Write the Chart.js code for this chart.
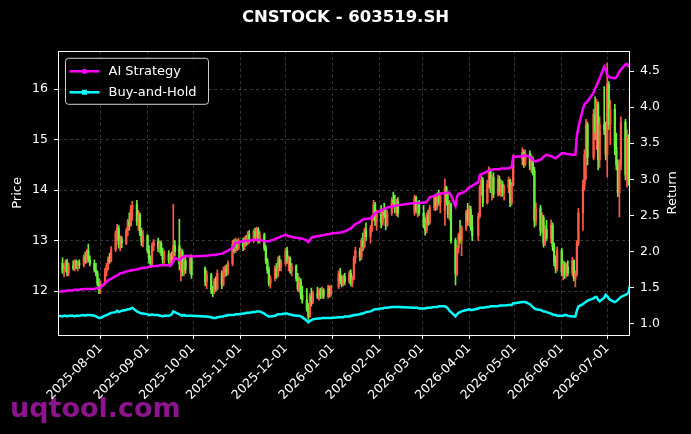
<!DOCTYPE html>
<html><head><meta charset="utf-8">
<script src="https://cdn.jsdelivr.net/npm/chart.js@4.4.1/dist/chart.umd.min.js"></script>
<style>html,body{margin:0;padding:0;background:#000;}canvas{display:block;}</style>
</head><body>
<canvas id="c" width="691" height="434"></canvas>
<script>
const dates = [
"2025-07-04","2025-07-07","2025-07-08","2025-07-09","2025-07-10","2025-07-11","2025-07-14","2025-07-15","2025-07-16","2025-07-17","2025-07-18","2025-07-21","2025-07-22","2025-07-23","2025-07-24","2025-07-25","2025-07-28","2025-07-29","2025-07-30","2025-07-31",
"2025-08-01","2025-08-04","2025-08-05","2025-08-06","2025-08-07","2025-08-08","2025-08-11","2025-08-12","2025-08-13","2025-08-14","2025-08-15","2025-08-18","2025-08-19","2025-08-20","2025-08-21","2025-08-22","2025-08-25","2025-08-26","2025-08-27","2025-08-28","2025-08-29",
"2025-09-01","2025-09-02","2025-09-03","2025-09-04","2025-09-05","2025-09-08","2025-09-09","2025-09-10","2025-09-11","2025-09-12","2025-09-15","2025-09-16","2025-09-17","2025-09-18","2025-09-19","2025-09-22","2025-09-23","2025-09-24","2025-09-25","2025-09-26","2025-09-29","2025-09-30",
"2025-10-09","2025-10-10","2025-10-13","2025-10-14","2025-10-15","2025-10-16","2025-10-17","2025-10-20","2025-10-21","2025-10-22","2025-10-23","2025-10-24","2025-10-27","2025-10-28","2025-10-29","2025-10-30","2025-10-31",
"2025-11-03","2025-11-04","2025-11-05","2025-11-06","2025-11-07","2025-11-10","2025-11-11","2025-11-12","2025-11-13","2025-11-14","2025-11-17","2025-11-18","2025-11-19","2025-11-20","2025-11-21","2025-11-24","2025-11-25","2025-11-26","2025-11-27","2025-11-28",
"2025-12-01","2025-12-02","2025-12-03","2025-12-04","2025-12-05","2025-12-08","2025-12-09","2025-12-10","2025-12-11","2025-12-12","2025-12-15","2025-12-16","2025-12-17","2025-12-18","2025-12-19","2025-12-22","2025-12-23","2025-12-24","2025-12-25","2025-12-26","2025-12-29","2025-12-30","2025-12-31",
"2026-01-05","2026-01-06","2026-01-07","2026-01-08","2026-01-09","2026-01-12","2026-01-13","2026-01-14","2026-01-15","2026-01-16","2026-01-19","2026-01-20","2026-01-21","2026-01-22","2026-01-23","2026-01-26","2026-01-27","2026-01-28","2026-01-29","2026-01-30",
"2026-02-02","2026-02-03","2026-02-04","2026-02-05","2026-02-06","2026-02-09","2026-02-10","2026-02-11","2026-02-12","2026-02-13","2026-02-24","2026-02-25","2026-02-26","2026-02-27",
"2026-03-02","2026-03-03","2026-03-04","2026-03-05","2026-03-06","2026-03-09","2026-03-10","2026-03-11","2026-03-12","2026-03-13","2026-03-16","2026-03-17","2026-03-18","2026-03-19","2026-03-20","2026-03-23","2026-03-24","2026-03-25","2026-03-26","2026-03-27","2026-03-30","2026-03-31",
"2026-04-01","2026-04-02","2026-04-03","2026-04-07","2026-04-08","2026-04-09","2026-04-10","2026-04-13","2026-04-14","2026-04-15","2026-04-16","2026-04-17","2026-04-20","2026-04-21","2026-04-22","2026-04-23","2026-04-24","2026-04-27","2026-04-28","2026-04-29","2026-04-30",
"2026-05-06","2026-05-07","2026-05-08","2026-05-11","2026-05-12","2026-05-13","2026-05-14","2026-05-15","2026-05-18","2026-05-19","2026-05-20","2026-05-21","2026-05-22","2026-05-25","2026-05-26","2026-05-27","2026-05-28","2026-05-29",
"2026-06-01","2026-06-02","2026-06-03","2026-06-04","2026-06-05","2026-06-08","2026-06-09","2026-06-10","2026-06-11","2026-06-12","2026-06-15","2026-06-16","2026-06-17","2026-06-18","2026-06-22","2026-06-23","2026-06-24","2026-06-25","2026-06-26","2026-06-29","2026-06-30",
"2026-07-01","2026-07-02","2026-07-03","2026-07-06","2026-07-07","2026-07-08","2026-07-09","2026-07-10","2026-07-13","2026-07-14","2026-07-15","2026-07-16"
];
const openP = [
12.50,12.55,12.40,12.45,12.58,12.36,12.50,12.46,12.58,12.48,12.55,12.52,12.68,12.60,12.80,12.62,12.55,12.42,12.35,12.15,
12.05,12.15,12.40,12.50,12.62,12.60,12.82,13.15,13.25,12.92,13.02,12.95,13.20,13.38,13.30,13.62,13.72,13.38,13.50,13.15,12.98,
13.10,12.80,12.62,12.55,12.90,12.98,12.85,12.95,12.75,12.62,12.72,12.60,12.70,12.62,12.90,12.90,12.55,12.78,12.38,12.60,12.42,12.65,
12.45,12.18,12.32,12.02,11.98,12.20,12.05,12.35,12.12,12.40,12.45,12.36,12.55,12.92,12.80,12.98,12.85,
13.00,12.88,13.02,12.95,13.12,13.00,13.18,13.08,13.22,13.02,13.12,12.85,12.60,12.42,12.15,12.25,12.45,12.30,12.62,12.48,
12.55,12.80,12.60,12.65,12.40,12.50,12.25,12.05,12.20,11.92,11.82,11.65,11.50,11.90,11.78,11.95,11.90,12.00,11.92,12.02,11.90,12.05,11.95,
12.08,12.35,12.20,12.12,12.28,12.18,12.35,12.15,12.25,12.65,12.80,12.68,13.00,12.88,13.20,13.08,13.25,13.45,13.72,13.38,
13.52,13.35,13.55,13.50,13.30,13.55,13.80,13.75,13.62,13.78,13.55,13.85,13.60,13.72,
13.55,13.30,13.20,13.50,13.35,13.65,13.85,13.68,13.90,13.75,13.60,14.05,13.78,13.52,13.72,13.00,12.35,12.85,13.10,13.00,13.25,13.55,
13.40,13.62,13.28,13.10,13.48,14.05,14.20,13.75,14.12,14.40,14.02,14.25,13.92,14.22,13.98,14.12,13.95,14.05,14.20,13.75,14.10,
14.62,14.75,14.52,14.72,14.48,14.62,14.38,13.40,13.65,13.20,13.45,12.95,13.22,13.05,13.30,12.88,12.58,12.45,
12.80,12.38,12.52,12.32,12.48,12.36,12.60,12.25,12.35,12.95,13.55,14.10,14.70,15.30,14.65,15.50,15.15,15.70,14.60,15.30,15.20,
14.70,16.10,15.30,15.60,14.85,14.50,13.95,14.50,15.35,14.30,15.05,14.20
];
const highP = [
12.62,12.66,12.52,12.62,12.63,12.55,12.60,12.62,12.62,12.60,12.62,12.72,12.78,12.82,12.93,12.70,12.62,12.55,12.40,12.25,
12.20,12.45,12.55,12.68,12.75,12.88,13.20,13.32,13.30,13.10,13.08,13.25,13.42,13.55,13.70,13.78,13.80,13.60,13.55,13.25,13.20,
13.12,12.90,12.70,12.95,13.02,13.05,13.00,12.98,12.85,12.80,12.80,12.75,12.78,13.72,13.00,13.42,12.85,12.82,12.68,12.70,12.72,12.72,
12.48,12.40,12.35,12.10,12.25,12.28,12.42,12.40,12.48,12.50,12.52,12.60,13.00,13.02,13.05,13.02,13.05,
13.05,13.08,13.10,13.18,13.20,13.22,13.25,13.27,13.26,13.18,13.15,12.90,12.65,12.48,12.30,12.50,12.55,12.68,12.70,12.62,
12.85,12.87,12.70,12.68,12.55,12.52,12.35,12.28,12.25,12.10,12.05,11.75,11.95,12.06,12.00,12.08,12.05,12.06,12.08,12.05,12.12,12.10,12.12,
12.40,12.45,12.30,12.32,12.35,12.40,12.42,12.30,12.70,12.87,12.85,13.05,13.15,13.25,13.35,13.30,13.50,13.80,13.76,13.60,
13.70,13.62,13.74,13.65,13.60,13.85,13.96,13.90,13.82,13.85,13.90,13.88,13.78,13.80,
13.70,13.45,13.55,13.60,13.70,13.90,13.92,13.95,14.00,13.95,14.22,14.08,13.95,13.80,13.75,13.05,12.90,13.15,13.40,13.30,13.60,13.74,
13.70,13.68,13.50,13.55,14.10,14.30,14.25,14.20,14.46,14.42,14.30,14.35,14.30,14.28,14.20,14.18,14.10,14.26,14.22,14.15,14.70,
14.84,14.80,14.80,14.78,14.70,14.66,14.45,13.75,13.70,13.55,13.50,13.30,13.40,13.41,13.35,12.95,12.70,12.87,
12.85,12.60,12.58,12.55,12.60,12.67,12.62,12.40,13.00,13.64,14.20,14.80,15.40,15.35,15.60,15.85,15.80,15.75,15.45,16.05,15.35,
16.52,16.15,15.78,15.70,15.13,14.60,14.60,15.45,15.40,15.20,15.10,16.10
];
const lowP = [
12.42,12.35,12.28,12.38,12.30,12.30,12.42,12.40,12.44,12.40,12.45,12.48,12.55,12.56,12.58,12.50,12.38,12.30,12.10,11.95,
11.95,12.12,12.30,12.42,12.55,12.58,12.78,13.00,12.85,12.80,12.86,12.92,13.10,13.20,13.28,13.40,13.30,13.20,13.10,12.90,12.88,
12.75,12.55,12.48,12.52,12.80,12.78,12.75,12.70,12.55,12.55,12.55,12.48,12.55,12.58,12.70,12.42,12.20,12.30,12.30,12.35,12.35,12.25,
12.10,12.05,11.95,11.89,11.95,12.00,12.02,12.05,12.10,12.28,12.30,12.32,12.50,12.75,12.76,12.80,12.82,
12.80,12.82,12.90,12.92,12.95,12.96,13.02,13.05,12.95,12.95,12.80,12.55,12.35,12.10,12.06,12.20,12.25,12.28,12.40,12.40,
12.50,12.55,12.40,12.35,12.30,12.20,12.00,11.98,11.85,11.76,11.60,11.44,11.48,11.70,11.75,11.85,11.82,11.85,11.86,11.85,11.86,11.88,11.90,
12.05,12.15,12.08,12.10,12.12,12.15,12.10,12.08,12.22,12.55,12.60,12.62,12.80,12.85,13.00,12.95,13.18,13.40,13.30,13.20,
13.25,13.30,13.45,13.21,13.28,13.50,13.68,13.55,13.50,13.47,13.50,13.55,13.47,13.50,
13.25,13.11,13.15,13.30,13.32,13.60,13.60,13.62,13.70,13.55,13.30,13.70,13.45,13.41,12.95,12.12,12.30,12.75,12.95,12.70,13.20,13.30,
13.30,13.20,13.00,13.00,13.45,13.90,13.67,13.72,14.05,13.95,13.80,13.85,13.88,13.90,13.87,13.88,13.80,13.95,13.67,13.70,14.08,
14.50,14.45,14.48,14.40,14.34,14.30,13.27,13.30,13.10,13.15,12.87,12.90,13.00,12.95,12.80,12.50,12.36,12.40,
12.30,12.22,12.25,12.28,12.30,12.30,12.20,12.08,12.30,12.90,13.20,14.00,14.20,14.50,14.60,15.00,14.80,14.40,14.45,15.10,14.60,
14.26,15.20,14.90,14.70,14.40,13.87,13.47,14.40,14.20,14.06,14.10,14.10
];
const closeP = [
12.55,12.40,12.45,12.58,12.36,12.50,12.46,12.58,12.48,12.55,12.52,12.68,12.60,12.78,12.62,12.55,12.42,12.35,12.15,12.02,
12.15,12.40,12.50,12.62,12.60,12.82,13.15,13.25,12.92,13.02,12.95,13.20,13.38,13.30,13.62,13.70,13.38,13.50,13.15,12.98,13.10,
12.80,12.62,12.55,12.90,12.98,12.85,12.95,12.75,12.62,12.72,12.60,12.70,12.62,12.90,12.78,12.55,12.78,12.38,12.60,12.42,12.65,12.32,
12.18,12.32,12.02,11.98,12.20,12.05,12.35,12.12,12.40,12.45,12.36,12.55,12.92,12.80,12.98,12.85,13.00,
12.88,13.02,12.95,13.12,13.00,13.18,13.08,13.22,13.02,13.12,12.85,12.60,12.42,12.15,12.25,12.45,12.30,12.62,12.48,12.55,
12.80,12.60,12.65,12.40,12.50,12.25,12.05,12.20,11.92,11.82,11.65,11.50,11.90,11.78,11.95,11.90,12.00,11.92,12.02,11.90,12.05,11.95,12.08,
12.35,12.20,12.12,12.28,12.18,12.35,12.15,12.25,12.65,12.80,12.68,13.00,12.88,13.20,13.08,13.25,13.45,13.72,13.38,13.52,
13.35,13.55,13.50,13.30,13.55,13.80,13.75,13.62,13.78,13.55,13.85,13.60,13.72,13.55,
13.30,13.20,13.50,13.35,13.65,13.85,13.68,13.90,13.75,13.88,14.05,13.78,13.52,13.72,13.00,12.35,12.85,13.10,13.00,13.25,13.55,13.40,
13.62,13.28,13.10,13.48,14.05,14.20,13.75,14.12,14.40,14.02,14.25,13.92,14.22,13.98,14.12,13.95,14.05,14.20,13.75,14.10,14.62,
14.75,14.52,14.72,14.48,14.62,14.38,13.40,13.65,13.20,13.45,12.95,13.22,13.05,13.30,12.88,12.58,12.45,12.80,
12.38,12.52,12.32,12.48,12.36,12.60,12.25,12.35,12.95,13.55,14.10,14.70,15.30,14.65,15.50,15.15,15.70,14.60,15.30,15.20,14.70,
16.10,15.30,15.60,14.85,14.50,13.95,14.50,15.35,14.30,15.05,14.20,15.90
];
const aiStrategy = [
1.44,1.45,1.45,1.45,1.46,1.46,1.46,1.47,1.47,1.47,1.47,1.48,1.48,1.48,1.48,1.48,1.48,1.49,1.49,1.49,
1.50,1.56,1.58,1.60,1.61,1.62,1.66,1.67,1.68,1.70,1.70,1.72,1.73,1.73,1.74,1.74,1.75,1.76,1.76,1.77,1.77,
1.78,1.79,1.79,1.80,1.80,1.80,1.81,1.81,1.81,1.81,1.81,1.81,1.82,1.86,1.91,1.88,1.90,1.92,1.93,1.94,1.93,1.93,
1.94,1.94,1.95,1.95,1.95,1.95,1.96,1.97,1.98,1.99,2.00,2.01,2.05,2.08,2.12,2.12,2.13,
2.14,2.14,2.15,2.15,2.15,2.16,2.16,2.16,2.16,2.16,2.14,2.14,2.14,2.14,2.15,2.17,2.18,2.19,2.20,2.21,
2.23,2.22,2.21,2.21,2.20,2.19,2.19,2.18,2.18,2.18,2.15,2.13,2.16,2.19,2.20,2.21,2.21,2.22,2.22,2.23,2.24,2.24,2.25,
2.26,2.26,2.27,2.27,2.28,2.31,2.32,2.34,2.36,2.38,2.41,2.43,2.44,2.45,2.45,2.46,2.48,2.50,2.53,2.54,
2.57,2.58,2.59,2.60,2.61,2.62,2.63,2.63,2.64,2.64,2.67,2.67,2.67,2.67,
2.68,2.68,2.69,2.72,2.75,2.77,2.78,2.78,2.79,2.80,2.81,2.81,2.82,2.81,2.78,2.63,2.76,2.80,2.80,2.81,2.84,2.87,
2.89,2.90,2.91,2.96,3.06,3.07,3.08,3.11,3.12,3.13,3.13,3.14,3.14,3.14,3.15,3.15,3.15,3.15,3.16,3.17,3.31,
3.32,3.33,3.33,3.31,3.29,3.27,3.25,3.25,3.27,3.29,3.31,3.33,3.34,3.32,3.31,3.30,3.29,3.31,
3.36,3.36,3.36,3.35,3.35,3.34,3.34,3.34,3.60,3.72,3.98,4.04,4.06,4.08,4.20,4.26,4.30,4.35,4.40,4.56,4.52,
4.45,4.42,4.41,4.40,4.41,4.45,4.49,4.52,4.59,4.60,4.57,4.58
];
const buyHold = [
1.11,1.10,1.11,1.11,1.10,1.11,1.11,1.10,1.11,1.11,1.11,1.12,1.11,1.12,1.12,1.12,1.11,1.10,1.09,1.08,
1.08,1.11,1.12,1.13,1.14,1.15,1.16,1.18,1.16,1.17,1.18,1.19,1.20,1.20,1.21,1.22,1.17,1.16,1.15,1.14,1.14,
1.13,1.12,1.12,1.13,1.12,1.12,1.11,1.11,1.10,1.11,1.11,1.12,1.13,1.17,1.16,1.13,1.12,1.11,1.12,1.11,1.11,1.11,
1.10,1.10,1.09,1.08,1.08,1.08,1.09,1.10,1.10,1.11,1.11,1.12,1.12,1.12,1.13,1.13,1.13,
1.14,1.14,1.15,1.15,1.15,1.16,1.16,1.17,1.17,1.17,1.14,1.12,1.11,1.10,1.10,1.11,1.12,1.13,1.13,1.13,
1.14,1.14,1.13,1.13,1.12,1.11,1.11,1.11,1.10,1.09,1.04,1.02,1.04,1.05,1.06,1.07,1.07,1.07,1.08,1.08,1.08,1.08,1.08,
1.09,1.09,1.09,1.09,1.10,1.10,1.11,1.11,1.12,1.12,1.13,1.14,1.14,1.15,1.16,1.17,1.18,1.19,1.20,1.20,
1.21,1.21,1.22,1.22,1.22,1.23,1.23,1.23,1.23,1.23,1.22,1.22,1.22,1.21,
1.21,1.21,1.22,1.22,1.22,1.23,1.23,1.23,1.24,1.24,1.24,1.23,1.21,1.18,1.16,1.10,1.13,1.15,1.16,1.17,1.19,1.19,
1.20,1.19,1.19,1.21,1.22,1.22,1.22,1.23,1.23,1.24,1.24,1.24,1.24,1.25,1.25,1.25,1.25,1.26,1.26,1.26,1.28,
1.30,1.30,1.30,1.27,1.25,1.23,1.21,1.20,1.19,1.18,1.17,1.17,1.16,1.14,1.13,1.12,1.12,1.11,
1.11,1.11,1.12,1.12,1.11,1.10,1.10,1.10,1.18,1.24,1.27,1.29,1.30,1.32,1.35,1.37,1.37,1.33,1.31,1.36,1.40,
1.38,1.35,1.33,1.30,1.31,1.33,1.35,1.37,1.40,1.41,1.43,1.53
];
const tickLabels = ["2025-08-01","2025-09-01","2025-10-01","2025-11-01","2025-12-01","2026-01-01","2026-02-01","2026-03-01","2026-04-01","2026-05-01","2026-06-01","2026-07-01"];
const priceTicks = [12, 13, 14, 15, 16];
const returnTicks = [1.0, 1.5, 2.0, 2.5, 3.0, 3.5, 4.0, 4.5];

const FONT = "'DejaVu Sans', sans-serif";
Chart.defaults.font.family = FONT;
Chart.defaults.color = '#ffffff';

function dayNum(s) {
  const p = s.split('-').map(Number);
  return (Date.UTC(p[0], p[1] - 1, p[2]) - Date.UTC(2025, 7, 1)) / 864e5;
}
const xs = dates.map(dayNum);
const tickDays = tickLabels.map(dayNum);
const UP = '#ff5a46', DOWN = '#6cf03c';
const candleColors = closeP.map((c, i) => c >= openP[i] ? UP : DOWN);

const wickData = xs.map((x, i) => ({x: x, y: [lowP[i], highP[i]]}));
const bodyData = xs.map((x, i) => ({x: x, y: [openP[i], closeP[i]]}));
const aiData = xs.map((x, i) => ({x: x, y: aiStrategy[i]}));
const bhData = xs.map((x, i) => ({x: x, y: buyHold[i]}));

const gridColor = 'rgba(150,150,150,0.45)';

const framePlugin = {
  id: 'framePlugin',
  beforeDraw(chart) {
    const ctx = chart.ctx;
    ctx.save();
    ctx.fillStyle = '#000';
    ctx.fillRect(0, 0, chart.width, chart.height);
    ctx.font = "bold 27px " + FONT;
    ctx.fillStyle = '#8c148c';
    ctx.textBaseline = 'alphabetic';
    ctx.textAlign = 'left';
    ctx.fillText('uqtool.com', 10, 417);
    ctx.restore();
  },
  afterDatasetsDraw(chart) {
    const ctx = chart.ctx, a = chart.chartArea;
    ctx.save();
    ctx.strokeStyle = '#ffffff';
    ctx.lineWidth = 1;
    ctx.setLineDash([]);
    ctx.strokeRect(Math.round(a.left) + 0.5, Math.round(a.top) + 0.5, Math.round(a.right - a.left) - 1, Math.round(a.bottom - a.top));
    // legend
    const lx = a.left + 7.5, ly = a.top + 7.5, lw = 143, lh = 46, r = 3;
    ctx.beginPath();
    ctx.moveTo(lx + r, ly);
    ctx.lineTo(lx + lw - r, ly); ctx.quadraticCurveTo(lx + lw, ly, lx + lw, ly + r);
    ctx.lineTo(lx + lw, ly + lh - r); ctx.quadraticCurveTo(lx + lw, ly + lh, lx + lw - r, ly + lh);
    ctx.lineTo(lx + r, ly + lh); ctx.quadraticCurveTo(lx, ly + lh, lx, ly + lh - r);
    ctx.lineTo(lx, ly + r); ctx.quadraticCurveTo(lx, ly, lx + r, ly);
    ctx.closePath();
    ctx.fillStyle = 'rgba(0,0,0,0.8)';
    ctx.fill();
    ctx.strokeStyle = '#cfcfcf';
    ctx.stroke();
    const items = [
      {label: chart.data.datasets[0].label, color: chart.data.datasets[0].borderColor, marker: 'circle'},
      {label: chart.data.datasets[1].label, color: chart.data.datasets[1].borderColor, marker: 'square'}
    ];
    items.forEach((it, k) => {
      const y = ly + 13 + k * 21;
      ctx.strokeStyle = it.color;
      ctx.lineWidth = 2.5;
      ctx.beginPath();
      ctx.moveTo(lx + 4, y); ctx.lineTo(lx + 34, y);
      ctx.stroke();
      ctx.fillStyle = it.color;
      if (it.marker === 'circle') {
        ctx.beginPath(); ctx.arc(lx + 19, y, 2.6, 0, Math.PI * 2); ctx.fill();
      } else {
        ctx.fillRect(lx + 16.5, y - 2.5, 5, 5);
      }
      ctx.fillStyle = '#ffffff';
      ctx.font = "13px " + FONT;
      ctx.textBaseline = 'middle';
      ctx.textAlign = 'left';
      ctx.fillText(it.label, lx + 43, y + 0.5);
    });
    ctx.restore();
  },
  afterDraw(chart) {
    const ctx = chart.ctx, a = chart.chartArea;
    ctx.save();
    ctx.fillStyle = '#ffffff';
    ctx.font = "13px " + FONT;
    ctx.textAlign = 'center';
    ctx.textBaseline = 'middle';
    ctx.translate(chart.width - 18, (a.top + a.bottom) / 2);
    ctx.rotate(-Math.PI / 2);
    ctx.fillText('Return', 0, 0);
    ctx.restore();
  }
};

new Chart(document.getElementById('c'), {
  type: 'bar',
  data: {
    datasets: [
      {type: 'line', label: 'AI Strategy', data: aiData, yAxisID: 'y1', borderColor: '#ff00ff', backgroundColor: '#ff00ff', borderWidth: 2.5, pointRadius: 0, tension: 0, order: 0},
      {type: 'line', label: 'Buy-and-Hold', data: bhData, yAxisID: 'y1', borderColor: '#00ffff', backgroundColor: '#00ffff', borderWidth: 2.5, pointRadius: 0, tension: 0, order: 1},
      {type: 'bar', label: 'body', data: bodyData, yAxisID: 'y', backgroundColor: candleColors, barThickness: 1.6, grouped: false, order: 2},
      {type: 'bar', label: 'wick', data: wickData, yAxisID: 'y', backgroundColor: candleColors, barThickness: 1, grouped: false, order: 3}
    ]
  },
  options: {
    responsive: false,
    animation: false,
    events: [],
    layout: {padding: 0},
    plugins: {
      legend: {display: false},
      tooltip: {enabled: false},
      title: {display: true, text: 'CNSTOCK - 603519.SH', color: '#ffffff', font: {family: FONT, size: 16.5, weight: 'bold'}, padding: {top: 8, bottom: 23}}
    },
    scales: {
      x: {
        type: 'linear', offset: false,
        min: dayNum('2025-07-04'), max: dayNum('2026-07-16'),
        afterBuildTicks: s => { s.ticks = tickDays.map(v => ({value: v})); },
        afterFit: s => { s.height = 99; },
        ticks: {autoSkip: false, minRotation: 45, maxRotation: 45, color: '#ffffff', font: {size: 12.5}, padding: 2,
                callback: (v, i) => tickLabels[i]},
        grid: {offset: false, color: gridColor, lineWidth: 0.8, tickColor: '#ffffff', tickLength: 4, tickWidth: 1},
        border: {display: false, dash: [3, 3]}
      },
      y: {
        type: 'linear', position: 'left', min: 11.13, max: 16.76,
        afterBuildTicks: s => { s.ticks = priceTicks.map(v => ({value: v})); },
        afterFit: s => { s.width = 58; },
        ticks: {color: '#ffffff', font: {size: 12.5}, padding: 6, callback: v => String(v)},
        grid: {color: gridColor, lineWidth: 0.8, tickColor: '#ffffff', tickLength: 4, tickWidth: 1},
        border: {display: false, dash: [3, 3]},
        title: {display: true, text: 'Price', color: '#ffffff', font: {size: 13}, padding: {top: 10, bottom: 0}}
      },
      y1: {
        type: 'linear', position: 'right', min: 0.843, max: 4.78,
        afterBuildTicks: s => { s.ticks = returnTicks.map(v => ({value: v})); },
        afterFit: s => { s.width = 61; },
        ticks: {color: '#ffffff', font: {size: 12.5}, padding: 6, callback: v => Number(v).toFixed(1)},
        grid: {drawOnChartArea: false, tickColor: '#ffffff', tickLength: 4, tickWidth: 1},
        border: {display: false},
        title: {display: false, text: 'Return'}
      }
    }
  },
  plugins: [framePlugin]
});
</script>
</body></html>
